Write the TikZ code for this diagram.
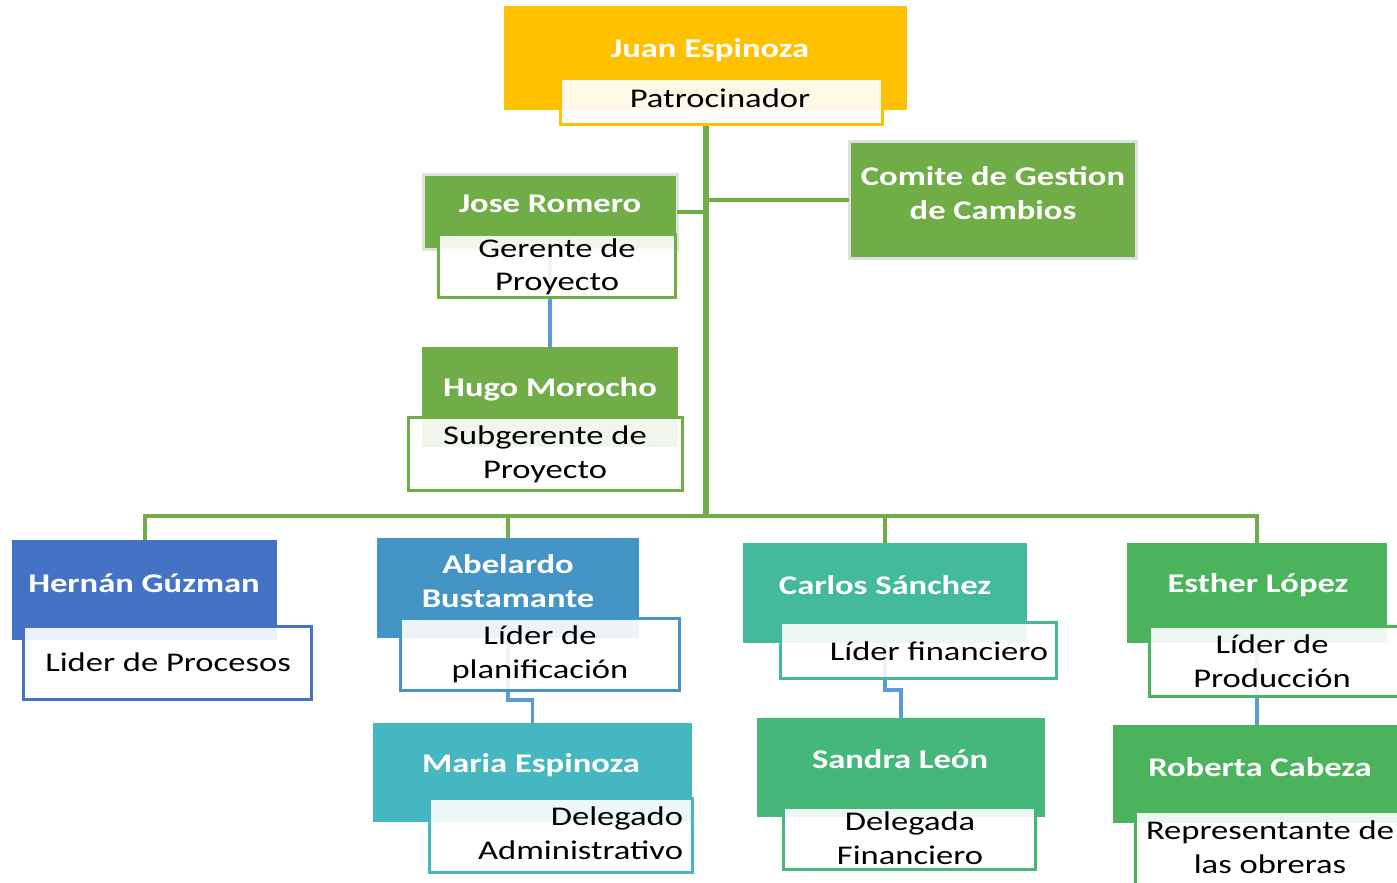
\documentclass[tikz,border=0pt]{standalone}
\usepackage{fontspec}
\setmainfont{Carlito}[FakeStretch=1.28]
\begin{document}
\begin{tikzpicture}[x=0.5pt,y=-0.5pt,
  every node/.style={inner sep=0pt,outer sep=0pt},
  namebox/.style={draw=none},
  titlebox/.style={fill=white,fill opacity=0.9,text opacity=1,line width=1.5pt},
  graybord/.style={draw=black!12,line width=1.5pt},
  nametext/.style={text=white,font=\fontsize{13.5}{17}\selectfont\bfseries,align=center},
  titletext/.style={text=black,font=\fontsize{13.5}{16.8}\selectfont,align=center},
  gline/.style={draw=cGreen,line width=2pt},
  bline/.style={draw=cLink,line width=1.7pt}]
\definecolor{cOrange}{HTML}{FFC000}
\definecolor{cGreen}{HTML}{70AD47}
\definecolor{cBlueH}{HTML}{4472C4}
\definecolor{cBlueA}{HTML}{4594C6}
\definecolor{cTealM}{HTML}{45B7C0}
\definecolor{cTealC}{HTML}{44BA9C}
\definecolor{cGreenS}{HTML}{46B77A}
\definecolor{cGreenE}{HTML}{4AB35C}
\definecolor{cLink}{HTML}{5B9BD5}
\newcommand\obox[6]{\node[#6,minimum width={(#4-#2)*0.5pt},minimum height={(#5-#3)*0.5pt}] (#1) at ({(#2+#4)/2},{(#3+#5)/2}) {};}
\useasboundingbox (0,0) rectangle (1397,883);
\clip (0,0) rectangle (1397,883);
\fill[white] (0,0) rectangle (1397,883);

% ---- name boxes ----
\obox{juan}{504}{6}{907}{110}{namebox,fill=cOrange}
\obox{jose}{423}{174}{677}{249}{namebox,fill=cGreen,graybord}
\obox{hugo}{422}{347}{678}{447}{namebox,fill=cGreen}
\obox{comite}{849}{142}{1136}{258}{namebox,fill=cGreen,graybord}
\obox{hernan}{12}{540}{277}{640}{namebox,fill=cBlueH}
\obox{abel}{377}{538}{639}{638}{namebox,fill=cBlueA}
\obox{maria}{373}{723}{692}{822}{namebox,fill=cTealM}
\obox{carlos}{743}{543}{1027}{643}{namebox,fill=cTealC}
\obox{sandra}{757}{718}{1045}{817}{namebox,fill=cGreenS}
\obox{esther}{1127}{543}{1387}{643}{namebox,fill=cGreenE}
\obox{roberta}{1113}{725}{1407}{823}{namebox,fill=cGreenE}

% ---- connectors ----
\coordinate (hub) at (706,516);
\coordinate (trunktop) at (706,120);
\coordinate (abelbend) at (520,700);
\coordinate (carlosbend) at (893,690);
\draw[gline,line width=2.8pt] (trunktop) -- (hub);
\draw[gline] (jose.east) -- (jose.east -| hub);
\draw[gline] (comite.west) -- (comite.west -| hub);
\draw[gline] (hernan.north) |- (hub);
\draw[gline] (abel.north) |- (hub);
\draw[gline] (carlos.north) |- (hub);
\draw[gline] (esther.north) |- (hub);
\draw[bline] (jose.south) -- (hugo.north);
\draw[bline] (abel.south) |- (abelbend) -| (maria.north);
\draw[bline] (carlos.south) |- (carlosbend) -| (sandra.north);
\draw[bline] (esther.south) -- (esther.south |- roberta.north);

% ---- title boxes ----
\obox{patro}{560}{79}{882}{125}{titlebox,draw=cOrange}
\obox{josesub}{438}{234}{675}{297}{titlebox,draw=cGreen}
\obox{hugosub}{408}{417}{682}{490}{titlebox,draw=cGreen}
\obox{hernansub}{23}{626}{311}{699}{titlebox,draw=cBlueH}
\obox{abelsub}{400}{618}{679}{690}{titlebox,draw=cBlueA}
\obox{mariasub}{429}{798}{692}{872}{titlebox,draw=cTealM}
\obox{carlossub}{780}{622}{1056}{678}{titlebox,draw=cTealC}
\obox{sandrasub}{783}{807}{1035}{869}{titlebox,draw=cGreenS}
\obox{esthersub}{1149}{626}{1402}{696}{titlebox,draw=cGreenE}
\obox{robertasub}{1135}{811}{1410}{895}{titlebox,draw=cGreenE}

% ---- texts ----
\node[nametext] (juant) at (710,50) {Juan Espinoza};
\node[titletext] (patrot) at (720,98) {Patrocinador};
\node[nametext] (joset) at (550,204) {Jose Romero};
\node[titletext] (josesubt) at (557,267) {Gerente de\\Proyecto};
\node[nametext] (hugot) at (550,389) {Hugo Morocho};
\node[titletext] (hugosubt) at (545,454) {Subgerente de\\Proyecto};
\node[nametext] (comitet) at (993,193) {Comite de Gestion\\de Cambios};
\node[nametext] (hernant) at (144,583) {Hernán Gúzman};
\node[titletext] (hernansubt) at (168,662) {Lider de Procesos};
\node[nametext] (abelt) at (508,581) {Abelardo\\Bustamante};
\node[titletext] (abelsubt) at (540,654) {Líder de\\planificación};
\node[nametext] (mariat) at (531,765) {Maria Espinoza};
\node[titletext,align=right,anchor=east] (mariasubt) at (683,833) {Delegado\\Administrativo};
\node[nametext] (carlost) at (885,585) {Carlos Sánchez};
\node[titletext] (carlossubt) at (939,651) {Líder financiero};
\node[nametext] (sandrat) at (900,759) {Sandra León};
\node[titletext] (sandrasubt) at (910,838) {Delegada\\Financiero};
\node[nametext] (esthert) at (1258,585) {Esther López};
\node[titletext] (esthersubt) at (1272,661) {Líder de\\Producción};
\node[nametext] (robertat) at (1260,767) {Roberta Cabeza};
\node[titletext] (robertasubt) at (1270,847) {Representante de\\las obreras};
\end{tikzpicture}
\end{document}
